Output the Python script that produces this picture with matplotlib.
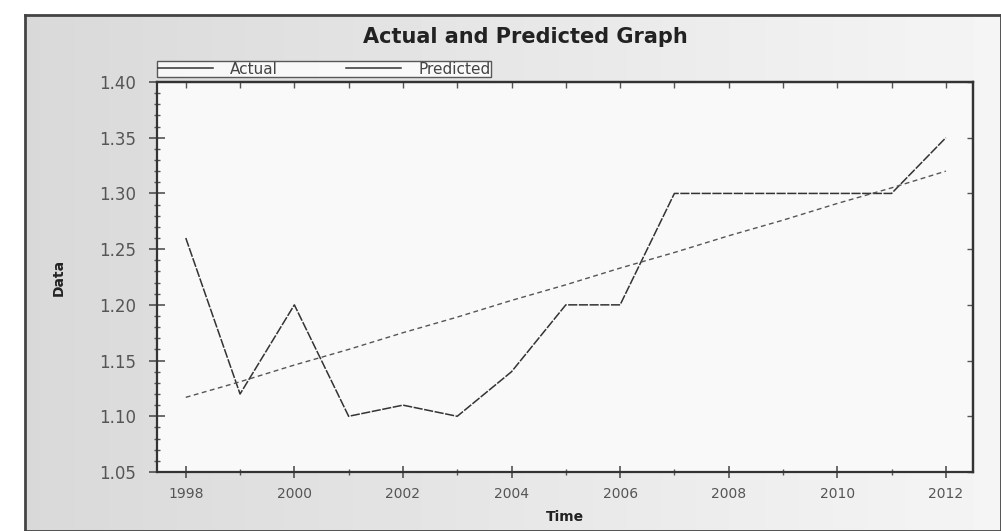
import numpy as np
import matplotlib.pyplot as plt
from matplotlib.lines import Line2D
from matplotlib.ticker import MultipleLocator

# yearly series
years = [1998, 1999, 2000, 2001, 2002, 2003, 2004, 2005,
         2006, 2007, 2008, 2009, 2010, 2011, 2012]
actual = [1.26, 1.12, 1.20, 1.10, 1.11, 1.10, 1.14, 1.20,
          1.20, 1.30, 1.30, 1.30, 1.30, 1.30, 1.35]
predicted = [1.117, 1.131, 1.146, 1.160, 1.175, 1.189, 1.204, 1.218,
             1.233, 1.247, 1.262, 1.276, 1.291, 1.305, 1.320]

y_ticks = [1.05, 1.10, 1.15, 1.20, 1.25, 1.30, 1.35, 1.40]
x_ticks = [1998, 2000, 2002, 2004, 2006, 2008, 2010, 2012]

fig = plt.figure(figsize=(10.01, 5.31), dpi=100)
fig.patch.set_facecolor("white")

# grey panel behind the plot, lighter toward the right
grad = np.linspace(0.85, 0.96, 256).reshape(1, -1)
bg = fig.add_axes([25 / 1001, 0, 1 - 25 / 1001, 516 / 531], zorder=0)
bg.imshow(grad, cmap="gray", vmin=0, vmax=1, aspect="auto",
          extent=[0, 1, 0, 1])
bg.set_xticks([])
bg.set_yticks([])
for s in bg.spines.values():
    s.set_color("#444444")
    s.set_linewidth(2)

ax = fig.add_axes([157 / 1001, 1 - 472 / 531, 816 / 1001, 390 / 531], zorder=1)
ax.set_facecolor("#f9f9f9")

ax.plot(years, actual, color="#333333", lw=1.1, dashes=(6, 1.0))
ax.plot(years, predicted, color="#555555", lw=1.0, dashes=(3.5, 2.5))

ax.set_xlim(1997.47, 2012.5)
ax.set_ylim(1.05, 1.40)
ax.set_xticks(x_ticks)
ax.set_xticklabels([str(x) for x in x_ticks])
ax.set_yticks(y_ticks)
ax.set_yticklabels(["%.2f" % v for v in y_ticks])
ax.xaxis.set_minor_locator(MultipleLocator(1))
ax.yaxis.set_minor_locator(MultipleLocator(0.01))

ax.tick_params(axis="both", which="major", direction="inout", length=12,
               width=1.1, color="#444444", labelcolor="#555555")
ax.tick_params(axis="both", which="minor", direction="inout", length=5,
               width=1, color="#555555")
ax.tick_params(axis="x", which="major", length=9)
ax.tick_params(axis="x", labelsize=10, pad=6)
ax.tick_params(axis="y", labelsize=12, pad=9)

# small inward ticks along the top and right edges
top = ax.secondary_xaxis("top")
top.set_xticks(years)
top.tick_params(direction="in", length=4, width=1, color="#555555",
                labeltop=False)
top.tick_params(which="minor", length=0)
right = ax.secondary_yaxis("right")
right.set_yticks(y_ticks)
right.tick_params(direction="in", length=4, width=1, color="#555555",
                  labelright=False)

for s in list(ax.spines.values()) + [top.spines["top"], right.spines["right"]]:
    s.set_color("#333333")
    s.set_linewidth(1.6)

ax.set_xlabel("Time", fontsize=10, fontweight="bold", color="#222222",
              labelpad=7)
ax.set_ylabel("Data", fontsize=10, fontweight="bold", color="#222222",
              labelpad=24)

fig.text(525 / 1001, 1 - 37 / 531, "Actual and Predicted Graph",
         ha="center", va="center", fontsize=15, fontweight="bold",
         color="#222222")

handles = [Line2D([], [], color="#333333", lw=1.1),
           Line2D([], [], color="#333333", lw=1.1)]
leg = ax.legend(handles, ["Actual", "Predicted"], ncol=2,
                loc="lower left", bbox_to_anchor=(0.0, 1.012),
                frameon=True, fancybox=False, fontsize=11,
                borderpad=0.05, handlelength=3.6, handletextpad=1.1,
                columnspacing=4.5, borderaxespad=0)
leg.get_frame().set_edgecolor("#333333")
leg.get_frame().set_facecolor("white")
leg.get_frame().set_linewidth(1)
for t in leg.get_texts():
    t.set_color("#444444")

fig.savefig("out.png", dpi=100)
